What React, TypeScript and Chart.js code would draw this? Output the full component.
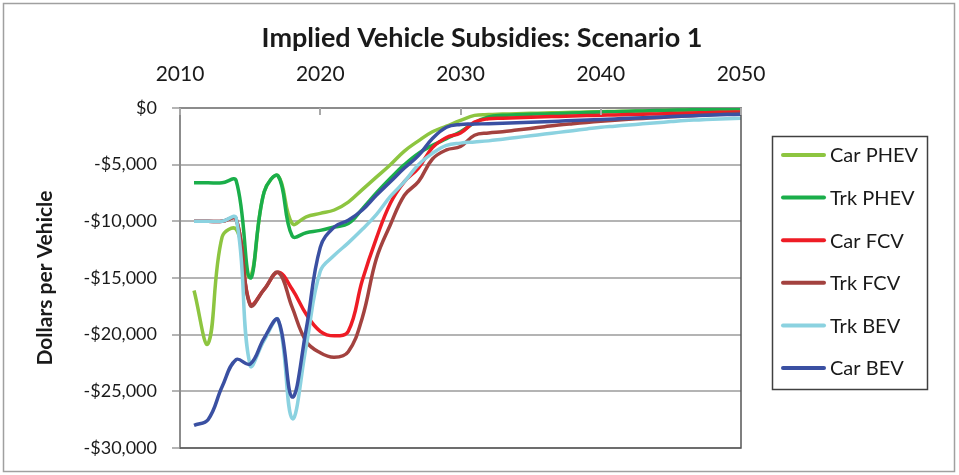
import React, { useEffect, useRef } from 'react';
import { Chart, registerables } from 'chart.js';

Chart.register(...registerables);

const FONT = 'Lato, "Open Sans", "DejaVu Sans", sans-serif';

const chartTitle = 'Implied Vehicle Subsidies: Scenario 1';
const yAxisTitle = 'Dollars per Vehicle';

const years = [
  2011, 2012, 2013, 2014, 2015, 2016, 2017, 2018, 2019, 2020,
  2021, 2022, 2023, 2024, 2025, 2026, 2027, 2028, 2029, 2030,
  2031, 2032, 2033, 2034, 2035, 2036, 2037, 2038, 2039, 2040,
  2041, 2042, 2043, 2044, 2045, 2046, 2047, 2048, 2049, 2050,
];

const xTicks = [2010, 2020, 2030, 2040, 2050];
const yTicks = [0, -5000, -10000, -15000, -20000, -25000, -30000];

const carPHEV = [
  -16100, -20800, -11400, -10700, -14900, -7400, -6000, -10200, -9600, -9300,
  -9000, -8300, -7200, -6100, -5000, -3800, -2900, -2100, -1600, -1100,
  -650, -580, -540, -500, -470, -440, -410, -380, -350, -320,
  -300, -280, -260, -240, -220, -200, -170, -150, -130, -100,
];

const trkPHEV = [
  -6600, -6600, -6600, -6400, -15000, -7400, -6000, -11300, -11000, -10800,
  -10500, -10200, -8900, -7500, -6200, -5000, -4000, -3300, -2700, -2100,
  -1300, -800, -650, -600, -560, -520, -480, -440, -400, -360,
  -320, -290, -260, -230, -200, -170, -140, -110, -80, -50,
];

const carFCV = [
  -10000, -10000, -10000, -9800, -17300, -16000, -14500, -16000, -18200, -19700,
  -20100, -19700, -15200, -11500, -8400, -6500, -5300, -3500, -2600, -2200,
  -1250, -950, -900, -860, -820, -780, -740, -700, -670, -640,
  -610, -580, -550, -520, -490, -460, -430, -400, -370, -350,
];

const trkFCV = [
  -10000, -10000, -10000, -9800, -17400, -16000, -14500, -17600, -20600, -21600,
  -22000, -21500, -18500, -13300, -10300, -7700, -6500, -4500, -3700, -3400,
  -2400, -2200, -2100, -1950, -1800, -1650, -1500, -1380, -1270, -1170,
  -1080, -1000, -920, -850, -780, -710, -640, -580, -520, -470,
];

const trkBEV = [
  -10000, -10000, -10000, -9700, -22700, -20500, -18700, -27400, -21000, -14400,
  -13000, -11900, -10700, -9400, -7800, -6500, -5000, -4000, -3300, -3100,
  -3000, -2900, -2750, -2600, -2450, -2300, -2150, -2000, -1850, -1700,
  -1600, -1500, -1400, -1300, -1200, -1100, -1050, -1000, -950, -900,
];

const carBEV = [
  -28000, -27500, -24600, -22200, -22600, -20300, -18700, -25500, -19500, -12300,
  -10500, -9900, -9000, -7700, -6500, -5300, -4200, -2700, -1700, -1450,
  -1420, -1380, -1340, -1300, -1260, -1210, -1160, -1110, -1060, -1010,
  -960, -910, -860, -810, -760, -710, -660, -620, -580, -550,
];

const seriesNames = ['Car PHEV', 'Trk PHEV', 'Car FCV', 'Trk FCV', 'Trk BEV', 'Car BEV'];
const seriesValues = [carPHEV, trkPHEV, carFCV, trkFCV, trkBEV, carBEV];
const seriesColors = ['#8DC540', '#1AAE4A', '#EE1C25', '#A3423F', '#8BD2E0', '#3A50A2'];

const fmtDollar = (v: number) =>
  v === 0 ? '$0' : (v < 0 ? '-' : '') + '$' + Math.abs(v).toLocaleString('en-US');

const decorPlugin = {
  id: 'decor',
  beforeDraw(chart: any) {
    const { ctx, width, height } = chart;
    ctx.save();
    ctx.fillStyle = '#FFFFFF';
    ctx.fillRect(0, 0, width, height);
    ctx.restore();
  },
  afterDraw(chart: any) {
    const { ctx, chartArea: a } = chart;
    const xs = chart.scales.x;
    ctx.save();
    // outer border
    ctx.strokeStyle = '#A0A0A0';
    ctx.lineWidth = 1.5;
    ctx.strokeRect(3.5, 3.5, 951, 468);
    // plot right & bottom border
    ctx.strokeStyle = '#555555';
    ctx.lineWidth = 1.5;
    ctx.beginPath();
    ctx.moveTo(a.right, a.top);
    ctx.lineTo(a.right, a.bottom);
    ctx.lineTo(a.left, a.bottom);
    ctx.stroke();
    // inner tick marks on top axis
    ctx.strokeStyle = '#A8A8A8';
    ctx.lineWidth = 2;
    xTicks.forEach((t) => {
      const px = Math.round(xs.getPixelForValue(t));
      ctx.beginPath();
      ctx.moveTo(px, a.top);
      ctx.lineTo(px, a.top + 7);
      ctx.stroke();
    });
    // title
    ctx.fillStyle = '#1A1A1A';
    ctx.textAlign = 'center';
    ctx.textBaseline = 'middle';
    ctx.font = `bold 27px ${FONT}`;
    ctx.fillText(chartTitle, 482, 38);
    // y axis title
    ctx.save();
    ctx.translate(45, (a.top + a.bottom) / 2);
    ctx.rotate(-Math.PI / 2);
    ctx.font = `bold 21px ${FONT}`;
    ctx.fillText(yAxisTitle, 0, 0);
    ctx.restore();
    // legend
    const lg = { left: 772, top: 136, right: 927, bottom: 389 };
    ctx.strokeStyle = '#404040';
    ctx.lineWidth = 1.5;
    ctx.strokeRect(lg.left + 0.5, lg.top + 0.5, lg.right - lg.left, lg.bottom - lg.top);
    ctx.font = `20px ${FONT}`;
    ctx.textAlign = 'left';
    ctx.textBaseline = 'middle';
    chart.data.datasets.forEach((ds: any, i: number) => {
      const cy = 155 + i * 42.6;
      ctx.strokeStyle = ds.borderColor;
      ctx.lineWidth = 4;
      ctx.lineCap = 'round';
      ctx.beginPath();
      ctx.moveTo(783, cy);
      ctx.lineTo(824, cy);
      ctx.stroke();
      ctx.fillStyle = '#1A1A1A';
      ctx.fillText(ds.label, 830, cy + 1);
    });
    ctx.restore();
  },
};

export default function App() {
  const ref = useRef<HTMLCanvasElement | null>(null);

  useEffect(() => {
    document.body.style.margin = '0';
    const canvas = ref.current;
    if (!canvas) return;
    const datasets = seriesNames.map((name, i) => ({
      label: name,
      data: years.map((yr, j) => ({ x: yr, y: seriesValues[i][j] })),
      borderColor: seriesColors[i],
      backgroundColor: seriesColors[i],
      borderWidth: 3.5,
      pointRadius: 0,
      pointHoverRadius: 0,
      tension: 0.4,
      fill: false,
      order: seriesNames.length - i,
    }));

    const chart = new Chart(canvas, {
      type: 'line',
      data: { datasets },
      options: {
        responsive: false,
        animation: false,
        devicePixelRatio: 1,
        layout: { padding: { left: 0, top: 0, right: 218, bottom: 27 } },
        plugins: {
          legend: { display: false },
          title: { display: false },
          tooltip: { enabled: false },
        },
        scales: {
          x: {
            type: 'linear',
            position: 'top',
            min: 2010,
            max: 2050,
            afterBuildTicks: (axis: any) => {
              axis.ticks = xTicks.map((v) => ({ value: v }));
            },
            afterFit: (axis: any) => {
              axis.height = 108;
            },
            ticks: {
              callback: (v: any) => String(v),
              font: { family: FONT, size: 21 },
              color: '#1A1A1A',
              padding: 21,
              maxRotation: 0,
              autoSkip: false,
            },
            grid: { display: false, drawTicks: false },
            border: { display: true, color: '#8C8C8C', width: 2 },
          },
          y: {
            type: 'linear',
            min: -30000,
            max: 0,
            afterBuildTicks: (axis: any) => {
              axis.ticks = yTicks.map((v) => ({ value: v }));
            },
            afterFit: (axis: any) => {
              axis.width = 180;
            },
            ticks: {
              callback: (v: any) => fmtDollar(Number(v)),
              font: { family: FONT, size: 18 },
              color: '#1A1A1A',
              padding: 15,
            },
            grid: { color: '#B4B4B4', lineWidth: 2, tickLength: 8, drawTicks: true },
            border: { display: true, color: '#8C8C8C', width: 2 },
          },
        },
      },
      plugins: [decorPlugin],
    } as any);

    return () => {
      chart.destroy();
    };
  }, []);

  return (
    <div style={{ width: 959, height: 475 }}>
      <canvas ref={ref} width={959} height={475} style={{ display: 'block' }} />
    </div>
  );
}
